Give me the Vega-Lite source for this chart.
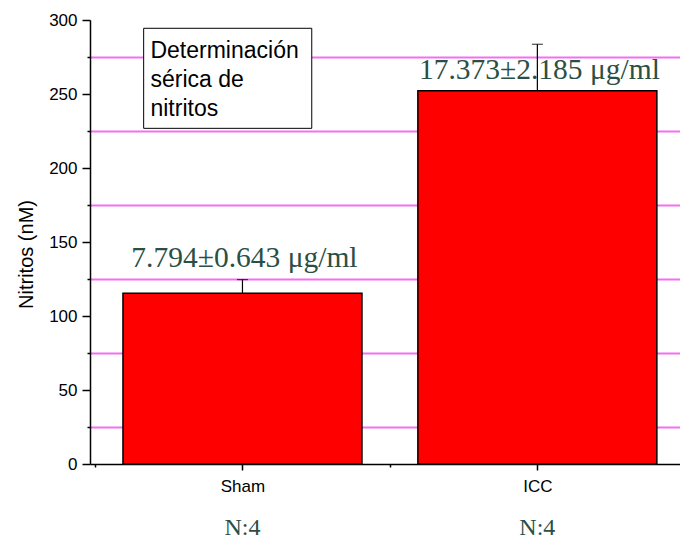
{
  "$schema": "https://vega.github.io/schema/vega-lite/v6.json",
  "width": 590,
  "height": 444,
  "autosize": {"type": "none"},
  "padding": {"left": 90, "top": 20, "right": 0, "bottom": 75},
  "background": "white",
  "config": {
    "view": {"stroke": null},
    "font": "Liberation Sans",
    "axisX": {
      "grid": false,
      "domainColor": "black", "domainWidth": 1.5,
      "tickColor": "black", "tickWidth": 1.5,
      "labelFont": "Liberation Sans", "labelFontSize": 17, "labelColor": "black",
      "labelPadding": 8
    },
    "axisY": {
      "grid": true,
      "gridWidth": 1.8,
      "domainColor": "black", "domainWidth": 1.5,
      "tickColor": "black", "tickWidth": 1.5,
      "labelFont": "Liberation Sans", "labelFontSize": 17, "labelColor": "black",
      "labelPadding": 5,
      "titleFont": "Liberation Sans", "titleFontSize": 20, "titleFontWeight": "normal", "titleColor": "black",
      "titleAngle": -90,
      "titleAlign": "center",
      "titleBaseline": "alphabetic",
      "titleX": -58,
      "titleY": 234
    }
  },
  "datasets": {
    "bars": [
      {"group": "Sham", "pos": 1, "mean": 115.3, "upper": 124.6, "label": "7.794±0.643 μg/ml", "label_at": 133, "n": "N:4"},
      {"group": "ICC", "pos": 2, "mean": 252.2, "upper": 283.6, "label": "17.373±2.185 μg/ml", "label_at": 260, "n": "N:4"}
    ],
    "box": [
      {"x1": 0.665, "x2": 1.235, "y1": 294.4, "y2": 226.8, "tx": 0.688, "ty": 274, "text": ["Determinación", "sérica de", "nitritos"]}
    ]
  },
  "layer": [
    {
      "data": {"name": "bars"},
      "mark": {"type": "bar", "orient": "vertical", "size": 239, "color": "#FF0000", "stroke": "black", "strokeWidth": 1.5},
      "encoding": {
        "x": {
          "field": "pos", "type": "quantitative",
          "scale": {"domain": [0.5, 2.4667], "nice": false, "zero": false},
          "axis": {
            "title": null,
            "values": [0.5, 1, 1.5, 2],
            "labelExpr": "datum.value == 1 ? 'Sham' : (datum.value == 2 ? 'ICC' : '')",
            "tickSize": {"condition": {"test": "datum.value % 1 == 0", "value": 6}, "value": 3}
          }
        },
        "y": {
          "field": "mean", "type": "quantitative",
          "scale": {"domain": [0, 300], "nice": false},
          "axis": {
            "title": "Nitritos (nM)",
            "values": [0, 25, 50, 75, 100, 125, 150, 175, 200, 225, 250, 275, 300],
            "labelExpr": "datum.value % 50 == 0 ? datum.label : ''",
            "tickSize": {"condition": {"test": "datum.value % 50 == 0", "value": 8}, "value": 3},
            "gridColor": {"condition": {"test": "datum.value % 50 == 25", "value": "#F46EF4"}, "value": "transparent"}
          }
        }
      }
    },
    {
      "data": {"name": "bars"},
      "mark": {"type": "text", "font": "Liberation Serif", "fontSize": 29.5, "color": "#2c4f45", "align": "center", "baseline": "alphabetic", "dx": 2},
      "encoding": {
        "x": {"field": "pos", "type": "quantitative", "axis": {
            "title": null,
            "values": [0.5, 1, 1.5, 2],
            "labelExpr": "datum.value == 1 ? 'Sham' : (datum.value == 2 ? 'ICC' : '')",
            "tickSize": {"condition": {"test": "datum.value % 1 == 0", "value": 6}, "value": 3}
          }},
        "y": {"field": "label_at", "type": "quantitative", "axis": {
            "title": "Nitritos (nM)",
            "values": [0, 25, 50, 75, 100, 125, 150, 175, 200, 225, 250, 275, 300],
            "labelExpr": "datum.value % 50 == 0 ? datum.label : ''",
            "tickSize": {"condition": {"test": "datum.value % 50 == 0", "value": 8}, "value": 3},
            "gridColor": {"condition": {"test": "datum.value % 50 == 25", "value": "#F46EF4"}, "value": "transparent"}
          }},
        "text": {"field": "label"}
      }
    },
    {
      "data": {"name": "bars"},
      "mark": {"type": "rule", "color": "black", "strokeWidth": 1.2},
      "encoding": {
        "x": {"field": "pos", "type": "quantitative", "axis": {
            "title": null,
            "values": [0.5, 1, 1.5, 2],
            "labelExpr": "datum.value == 1 ? 'Sham' : (datum.value == 2 ? 'ICC' : '')",
            "tickSize": {"condition": {"test": "datum.value % 1 == 0", "value": 6}, "value": 3}
          }},
        "y": {"field": "mean", "type": "quantitative", "axis": {
            "title": "Nitritos (nM)",
            "values": [0, 25, 50, 75, 100, 125, 150, 175, 200, 225, 250, 275, 300],
            "labelExpr": "datum.value % 50 == 0 ? datum.label : ''",
            "tickSize": {"condition": {"test": "datum.value % 50 == 0", "value": 8}, "value": 3},
            "gridColor": {"condition": {"test": "datum.value % 50 == 25", "value": "#F46EF4"}, "value": "transparent"}
          }},
        "y2": {"field": "upper"}
      }
    },
    {
      "data": {"name": "bars"},
      "mark": {"type": "tick", "orient": "horizontal", "color": "black", "size": 11, "thickness": 1.2},
      "encoding": {
        "x": {"field": "pos", "type": "quantitative", "axis": {
            "title": null,
            "values": [0.5, 1, 1.5, 2],
            "labelExpr": "datum.value == 1 ? 'Sham' : (datum.value == 2 ? 'ICC' : '')",
            "tickSize": {"condition": {"test": "datum.value % 1 == 0", "value": 6}, "value": 3}
          }},
        "y": {"field": "upper", "type": "quantitative", "axis": {
            "title": "Nitritos (nM)",
            "values": [0, 25, 50, 75, 100, 125, 150, 175, 200, 225, 250, 275, 300],
            "labelExpr": "datum.value % 50 == 0 ? datum.label : ''",
            "tickSize": {"condition": {"test": "datum.value % 50 == 0", "value": 8}, "value": 3},
            "gridColor": {"condition": {"test": "datum.value % 50 == 25", "value": "#F46EF4"}, "value": "transparent"}
          }}
      }
    },
    {
      "data": {"name": "bars"},
      "mark": {"type": "text", "font": "Liberation Serif", "fontSize": 24, "color": "#2c4f45", "align": "center", "baseline": "alphabetic", "dy": 71, "clip": false},
      "encoding": {
        "x": {"field": "pos", "type": "quantitative", "axis": {
            "title": null,
            "values": [0.5, 1, 1.5, 2],
            "labelExpr": "datum.value == 1 ? 'Sham' : (datum.value == 2 ? 'ICC' : '')",
            "tickSize": {"condition": {"test": "datum.value % 1 == 0", "value": 6}, "value": 3}
          }},
        "y": {"datum": 0, "type": "quantitative", "axis": {
            "title": "Nitritos (nM)",
            "values": [0, 25, 50, 75, 100, 125, 150, 175, 200, 225, 250, 275, 300],
            "labelExpr": "datum.value % 50 == 0 ? datum.label : ''",
            "tickSize": {"condition": {"test": "datum.value % 50 == 0", "value": 8}, "value": 3},
            "gridColor": {"condition": {"test": "datum.value % 50 == 25", "value": "#F46EF4"}, "value": "transparent"}
          }},
        "text": {"field": "n"}
      }
    },
    {
      "data": {"name": "box"},
      "mark": {"type": "rect", "fill": "white", "stroke": "black", "strokeWidth": 1},
      "encoding": {
        "x": {"field": "x1", "type": "quantitative", "axis": {
            "title": null,
            "values": [0.5, 1, 1.5, 2],
            "labelExpr": "datum.value == 1 ? 'Sham' : (datum.value == 2 ? 'ICC' : '')",
            "tickSize": {"condition": {"test": "datum.value % 1 == 0", "value": 6}, "value": 3}
          }},
        "x2": {"field": "x2"},
        "y": {"field": "y1", "type": "quantitative", "axis": {
            "title": "Nitritos (nM)",
            "values": [0, 25, 50, 75, 100, 125, 150, 175, 200, 225, 250, 275, 300],
            "labelExpr": "datum.value % 50 == 0 ? datum.label : ''",
            "tickSize": {"condition": {"test": "datum.value % 50 == 0", "value": 8}, "value": 3},
            "gridColor": {"condition": {"test": "datum.value % 50 == 25", "value": "#F46EF4"}, "value": "transparent"}
          }},
        "y2": {"field": "y2"}
      }
    },
    {
      "data": {"name": "box"},
      "mark": {"type": "text", "font": "Liberation Sans", "fontSize": 23, "lineHeight": 29, "color": "black", "align": "left", "baseline": "alphabetic"},
      "encoding": {
        "x": {"field": "tx", "type": "quantitative", "axis": {
            "title": null,
            "values": [0.5, 1, 1.5, 2],
            "labelExpr": "datum.value == 1 ? 'Sham' : (datum.value == 2 ? 'ICC' : '')",
            "tickSize": {"condition": {"test": "datum.value % 1 == 0", "value": 6}, "value": 3}
          }},
        "y": {"field": "ty", "type": "quantitative", "axis": {
            "title": "Nitritos (nM)",
            "values": [0, 25, 50, 75, 100, 125, 150, 175, 200, 225, 250, 275, 300],
            "labelExpr": "datum.value % 50 == 0 ? datum.label : ''",
            "tickSize": {"condition": {"test": "datum.value % 50 == 0", "value": 8}, "value": 3},
            "gridColor": {"condition": {"test": "datum.value % 50 == 25", "value": "#F46EF4"}, "value": "transparent"}
          }},
        "text": {"field": "text"}
      }
    }
  ]
}
